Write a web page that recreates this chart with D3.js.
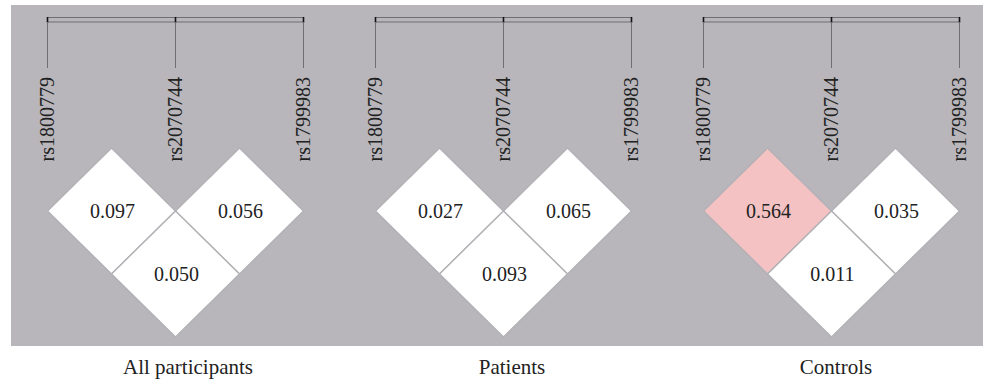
<!DOCTYPE html>
<html>
<head>
<meta charset="utf-8">
<script src="https://cdn.jsdelivr.net/npm/d3@7/dist/d3.min.js"></script>
<style>
  html, body { margin: 0; padding: 0; background: #fff; }
  svg { display: block; }
</style>
</head>
<body>
<svg id="chart" width="983" height="381"></svg>
<script>
// SNP markers shown along the top of each LD block
const snps = ["rs1800779", "rs2070744", "rs1799983"];
// Panel titles
const groups = ["All participants", "Patients", "Controls"];
// Pairwise LD values per panel: [snp1-snp2, snp2-snp3, snp1-snp3]
const pairs = [[0, 1], [1, 2], [0, 2]];
const allValues = [0.097, 0.056, 0.050];
const patientValues = [0.027, 0.065, 0.093];
const controlValues = [0.564, 0.035, 0.011];
const panelValues = [allValues, patientValues, controlValues];

const svg = d3.select("#chart");
const W = 983, H = 381;

// Background band
svg.append("rect")
  .attr("x", 11).attr("y", 5)
  .attr("width", W - 11).attr("height", 341)
  .attr("fill", "#b8b6bb");

// Panel placement and SNP positions within a panel
const panelX = d3.scaleBand().domain(groups).range([0, 984]);
const titleX = d3.scalePoint().domain(groups).range([188, 836]);
const snpX = d3.scaleLinear().domain([0, snps.length - 1]).range([47.5, 303.5]);
const half = (snpX(1) - snpX(0)) / 2;
const rowY = d3.scaleLinear().domain([0, 1]).range([211, 274]);
const halfV = rowY(1) - rowY(0);

// Cell colour: strong LD shaded pink, weak LD white
const fillScale = d3.scaleThreshold().domain([0.5]).range(["#ffffff", "#f4c2c3"]);

groups.forEach((g, gi) => {
  const p = svg.append("g").attr("transform", `translate(${panelX(g)},0)`);

  // Marker bar across the top
  p.append("rect")
    .attr("x", snpX(0)).attr("y", 17.5)
    .attr("width", snpX(snps.length - 1) - snpX(0)).attr("height", 4.5)
    .attr("fill", "none").attr("stroke", "#6f6e72").attr("stroke-width", 1);

  snps.forEach((s, i) => {
    const x = snpX(i);
    p.append("line")
      .attr("x1", x).attr("x2", x).attr("y1", 17).attr("y2", 22.5)
      .attr("stroke", "#111").attr("stroke-width", 1.6);
    p.append("line")
      .attr("x1", x).attr("x2", x).attr("y1", 22).attr("y2", 68)
      .attr("stroke", "#6f6e72").attr("stroke-width", 1);
    p.append("text")
      .attr("transform", `translate(${x + 6},77) rotate(-90)`)
      .attr("text-anchor", "end")
      .attr("font-family", "Liberation Serif, serif")
      .attr("font-size", 20)
      .attr("fill", "#222")
      .text(s);
  });

  // LD cells
  const vals = panelValues[gi];
  pairs.forEach(([a, b], k) => {
    const cx = (snpX(a) + snpX(b)) / 2;
    const cy = rowY(b - a - 1);
    const pts = [[cx, cy - halfV], [cx + half, cy], [cx, cy + halfV], [cx - half, cy]];
    p.append("path")
      .attr("d", d3.line()(pts) + "Z")
      .attr("fill", fillScale(vals[k]))
      .attr("stroke", "#b2b1b5").attr("stroke-width", 1.4);
    p.append("text")
      .attr("x", cx + 1).attr("y", cy)
      .attr("dy", "0.33em")
      .attr("text-anchor", "middle")
      .attr("font-family", "Liberation Serif, serif")
      .attr("font-size", 20)
      .attr("fill", "#222")
      .text(vals[k].toFixed(3));
  });
});

// Panel titles
svg.selectAll("text.title")
  .data(groups)
  .join("text")
  .attr("class", "title")
  .attr("x", d => titleX(d)).attr("y", 374)
  .attr("text-anchor", "middle")
  .attr("font-family", "Liberation Serif, serif")
  .attr("font-size", 21)
  .attr("fill", "#222")
  .text(d => d);
</script>
</body>
</html>
